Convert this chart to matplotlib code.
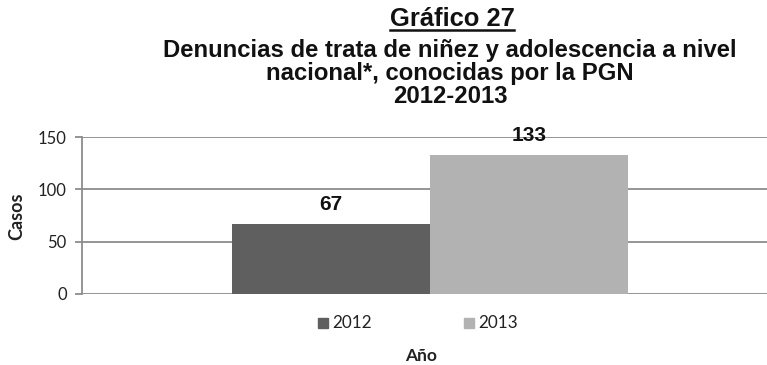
import matplotlib
matplotlib.use("Agg")
import matplotlib.pyplot as plt
from matplotlib.lines import Line2D
from matplotlib.patches import Rectangle

# Data
years = ["2012", "2013"]
cases = [67, 133]
bar_colors = ["#5f5f5f", "#b2b2b2"]
y_ticks = [0, 50, 100, 150]

title = "Gráfico 27"
subtitle = ("Denuncias de trata de niñez y adolescencia a nivel\n"
            "nacional*, conocidas por la PGN\n"
            "2012-2013")
y_label = "Casos"
x_label = "Año"

W, H = 767, 365
fig = plt.figure(figsize=(W / 100, H / 100), dpi=100)
fig.patch.set_facecolor("white")

def fx(px):
    return px / W

def fy(py):
    return 1 - py / H

# Plot area
left_px, right_px, top_px, bottom_px = 82, 767, 137, 294
ax = fig.add_axes([fx(left_px), fy(bottom_px), fx(right_px - left_px), fy(top_px) - fy(bottom_px)])

xpos = [-0.5, 0.5]
bars = ax.bar(xpos, cases, width=1.0, color=bar_colors, zorder=3)
ax.set_xlim(-1.758, 1.702)
ax.set_ylim(0, 150)
ax.set_yticks(y_ticks)
ax.set_xticks([])
ax.yaxis.grid(True, color="#8c8c8c", linewidth=1.3, zorder=0)
ax.set_axisbelow(True)
for s in ["top", "right", "bottom"]:
    ax.spines[s].set_visible(False)
ax.spines["left"].set_color("#8c8c8c")
ax.spines["left"].set_linewidth(1.3)
ax.tick_params(axis="y", length=5, width=1.3, color="#8c8c8c", pad=6,
               labelsize=12, labelcolor="#222222")
for lbl in ax.get_yticklabels():
    lbl.set_family("Lato")

# Value labels
for x, v in zip(xpos, cases):
    ax.annotate(str(v), (x, v), xytext=(0, 7), textcoords="offset points",
                ha="center", va="bottom", fontsize=15, fontweight="bold",
                family="Liberation Sans", color="#111111")

# Axis titles
fig.text(fx(17), fy(216), y_label, rotation=90, ha="center", va="center",
         fontsize=13, fontweight="bold", family="Lato", color="#222222")
fig.text(fx(421), fy(356), x_label, ha="center", va="center",
         fontsize=12.5, fontweight="bold", family="Lato", color="#222222")

# Legend
leg_y = 323
for sq_x, txt, c in [(318, years[0], bar_colors[0]), (464, years[1], bar_colors[1])]:
    fig.patches.append(Rectangle((fx(sq_x), fy(leg_y + 5)), fx(10), fy(leg_y - 5) - fy(leg_y + 5),
                                 transform=fig.transFigure, color=c))
    fig.text(fx(sq_x + 14), fy(leg_y), txt, ha="left", va="center",
             fontsize=12.3, family="Lato", color="#222222")

# Titles
t = fig.text(fx(452), fy(19), title, ha="center", va="center",
             fontsize=18.4, fontweight="bold", family="Liberation Sans", color="#111111")
fig.text(fx(450), fy(73.5), subtitle, ha="center", va="center", linespacing=1.0,
         fontsize=17.2, fontweight="bold", family="Liberation Sans", color="#111111")

fig.canvas.draw()
bb = t.get_window_extent().transformed(fig.transFigure.inverted())
fig.lines.append(Line2D([bb.x0, bb.x1], [bb.y0 + 0.002, bb.y0 + 0.002],
                        transform=fig.transFigure, color="#111111", linewidth=1.8))

fig.savefig("out.png", dpi=100, facecolor="white")
